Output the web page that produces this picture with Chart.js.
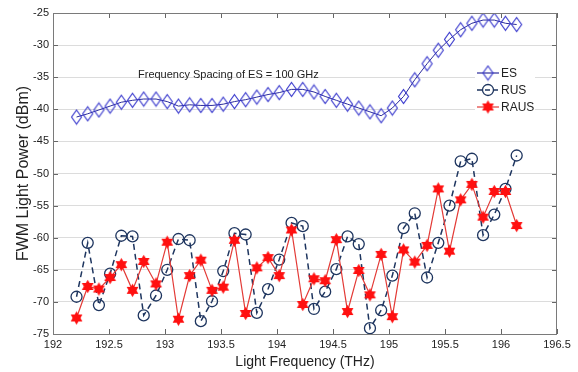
<!DOCTYPE html>
<html>
<head>
<meta charset="utf-8">
<script src="https://cdn.jsdelivr.net/npm/chart.js@4"></script>
<style>
  body { margin: 0; background: #fff; }
  #wrap { width: 578px; height: 372px; }
</style>
</head>
<body>
<div id="wrap"><canvas id="chart" width="578" height="372"></canvas></div>
<script>
// ====== data ======
const freqs = [192.21, 192.31, 192.41, 192.51, 192.61, 192.71, 192.81, 192.92, 193.02, 193.12,
  193.22, 193.32, 193.42, 193.52, 193.62, 193.72, 193.82, 193.92, 194.02, 194.13,
  194.23, 194.33, 194.43, 194.53, 194.63, 194.73, 194.83, 194.93, 195.03, 195.13,
  195.23, 195.34, 195.44, 195.54, 195.64, 195.74, 195.84, 195.94, 196.04, 196.14];

const es = [-41.2, -40.7, -40.1, -39.5, -38.9, -38.6, -38.4, -38.4, -38.8, -39.5,
  -39.3, -39.4, -39.4, -39.2, -38.8, -38.5, -38.1, -37.7, -37.4, -36.9,
  -36.9, -37.3, -38.0, -38.6, -39.2, -39.8, -40.4, -41.0, -39.8, -38.0,
  -35.4, -32.9, -30.8, -29.1, -27.6, -26.6, -26.1, -26.1, -26.6, -26.8];

const rus = [-69.2, -60.8, -70.5, -65.6, -59.7, -59.8, -72.1, -69.0, -65.0, -60.2,
  -60.4, -73.0, -69.9, -65.2, -59.3, -59.5, -71.7, -68.0, -63.4, -57.7,
  -58.2, -71.1, -68.4, -64.9, -59.8, -61.0, -74.1, -71.3, -65.9, -58.5,
  -56.2, -66.2, -60.8, -55.0, -48.1, -47.7, -59.6, -56.4, -52.4, -47.2];

const raus = [-72.5, -67.6, -68.0, -66.2, -64.2, -68.2, -63.7, -67.2, -60.7, -72.7,
  -65.9, -63.5, -68.2, -67.7, -60.4, -71.8, -64.7, -63.1, -65.9, -58.8,
  -70.4, -66.4, -66.7, -60.3, -71.5, -65.1, -68.9, -62.6, -72.3, -61.9,
  -63.8, -61.2, -52.4, -62.1, -54.1, -51.7, -56.8, -52.8, -52.8, -58.1];

const labels = ["ES", "RUS", "RAUS"];
const noteText = "Frequency Spacing of ES = 100 GHz";
const xTitle = "Light Frequency (THz)";
const yTitle = "FWM Light Power (dBm)";

// ====== colours / fonts ======
const ES_COLOR = "#3434cc";
const ES_LINE = "#2a2a9c";
const RUS_COLOR = "#1e355f";
const RAUS_COLOR = "#ff1010";
const RAUS_LINE = "#e33a36";
const FONT = '"Liberation Sans", Arial, sans-serif';

// ====== marker images ======
function diamondImg() {
  const c = document.createElement("canvas");
  c.width = 13; c.height = 17;
  const g = c.getContext("2d");
  g.strokeStyle = ES_COLOR;
  g.lineWidth = 1.1;
  g.beginPath();
  g.moveTo(6.5, 1.5); g.lineTo(11.5, 8.5); g.lineTo(6.5, 15.5); g.lineTo(1.5, 8.5);
  g.closePath();
  g.stroke();
  return c;
}

function starImg() {
  const c = document.createElement("canvas");
  c.width = 15; c.height = 15;
  const g = c.getContext("2d");
  g.fillStyle = RAUS_COLOR;
  const r = 6.8, cx = 7.5, cy = 7.5;
  [-90, 90].forEach(a0 => {
    g.beginPath();
    for (let i = 0; i < 3; i++) {
      const a = (a0 + i * 120) * Math.PI / 180;
      const px = cx + r * Math.cos(a), py = cy + r * Math.sin(a);
      if (i === 0) g.moveTo(px, py); else g.lineTo(px, py);
    }
    g.closePath();
    g.fill();
  });
  return c;
}

const diamond = diamondImg();
const star = starImg();

const pts = arr => arr.map((v, i) => ({ x: freqs[i], y: v }));

// ====== extras: box, inward ticks, note, legend ======
const extras = {
  id: "extras",
  afterDraw(chart) {
    const ctx = chart.ctx;
    const a = chart.chartArea;
    const xs = chart.scales.x, ys = chart.scales.y;
    ctx.save();

    // ticks pointing inward
    ctx.strokeStyle = "#666";
    ctx.lineWidth = 1;
    ctx.beginPath();
    xs.ticks.forEach(t => {
      const px = Math.round(xs.getPixelForValue(t.value)) + 0.5;
      ctx.moveTo(px, a.bottom); ctx.lineTo(px, a.bottom - 5);
      ctx.moveTo(px, a.top); ctx.lineTo(px, a.top + 5);
    });
    ys.ticks.forEach(t => {
      const py = Math.round(ys.getPixelForValue(t.value)) + 0.5;
      ctx.moveTo(a.left, py); ctx.lineTo(a.left + 5, py);
      ctx.moveTo(a.right, py); ctx.lineTo(a.right - 5, py);
    });
    ctx.stroke();

    // box
    ctx.strokeStyle = "#7a7a7a";
    ctx.strokeRect(a.left + 0.5, a.top + 0.5, a.right - a.left - 1, a.bottom - a.top);

    // note
    ctx.fillStyle = "#222";
    ctx.font = "11px " + FONT;
    ctx.textAlign = "left";
    ctx.textBaseline = "middle";
    ctx.fillText(noteText, 138, 75);

    // legend
    ctx.fillStyle = "#fff";
    ctx.fillRect(475, 62, 60, 55);
    const rows = [73, 90, 107];
    rows.forEach((ry, i) => {
      ctx.beginPath();
      ctx.lineWidth = i === 1 ? 1.5 : 1.2;
      ctx.strokeStyle = [ES_LINE, RUS_COLOR, RAUS_LINE][i];
      ctx.setLineDash(i === 1 ? [5, 3] : []);
      ctx.moveTo(477, ry); ctx.lineTo(499, ry);
      ctx.stroke();
      ctx.setLineDash([]);
      if (i === 0) ctx.drawImage(diamond, 488 - diamond.width / 2, ry - diamond.height / 2);
      if (i === 2) ctx.drawImage(star, 488 - star.width / 2, ry - star.height / 2);
      if (i === 1) {
        ctx.beginPath();
        ctx.lineWidth = 1.3;
        ctx.strokeStyle = RUS_COLOR;
        ctx.arc(488, ry, 5.5, 0, Math.PI * 2);
        ctx.stroke();
      }
      ctx.fillStyle = "#222";
      ctx.font = "12px " + FONT;
      ctx.fillText(labels[i], 501, ry + 1);
    });
    ctx.restore();
  }
};

// ====== chart ======
new Chart(document.getElementById("chart"), {
  type: "line",
  data: {
    datasets: [
      {
        label: labels[0],
        data: pts(es),
        borderColor: ES_LINE,
        borderWidth: 1,
        pointStyle: diamond,
        pointRadius: 6,
        order: 2
      },
      {
        label: labels[1],
        data: pts(rus),
        borderColor: RUS_COLOR,
        borderWidth: 1.5,
        borderDash: [6, 4],
        pointStyle: "circle",
        pointRadius: 5.5,
        pointBorderWidth: 1.3,
        pointBorderColor: RUS_COLOR,
        pointBackgroundColor: "rgba(0,0,0,0)",
        order: 1
      },
      {
        label: labels[2],
        data: pts(raus),
        borderColor: RAUS_LINE,
        borderWidth: 1.2,
        pointStyle: star,
        pointRadius: 7,
        order: 0
      }
    ]
  },
  options: {
    responsive: false,
    animation: false,
    events: [],
    layout: { padding: { top: 13, right: 21, left: 0, bottom: 0 } },
    plugins: { legend: { display: false }, tooltip: { enabled: false } },
    scales: {
      x: {
        type: "linear",
        min: 192, max: 196.5,
        afterFit: s => { s.height = 38; },
        grid: { display: false, drawTicks: false },
        border: { display: false },
        ticks: {
          stepSize: 0.5,
          padding: 4,
          maxRotation: 0,
          color: "#222",
          font: { size: 11, family: FONT },
          callback: v => String(Math.round(v * 10) / 10)
        },
        title: {
          display: true,
          text: xTitle,
          color: "#222",
          padding: { top: 4, bottom: 1 },
          font: { size: 14, family: FONT }
        }
      },
      y: {
        min: -75, max: -25,
        afterFit: s => { s.width = 53; },
        grid: { color: "#dcdcdc", drawTicks: false },
        border: { display: false },
        ticks: {
          stepSize: 5,
          padding: 4,
          color: "#222",
          font: { size: 11, family: FONT }
        },
        title: {
          display: true,
          text: yTitle,
          color: "#222",
          padding: { top: 14, bottom: 0 },
          font: { size: 16, family: FONT }
        }
      }
    }
  },
  plugins: [extras]
});
</script>
</body>
</html>
